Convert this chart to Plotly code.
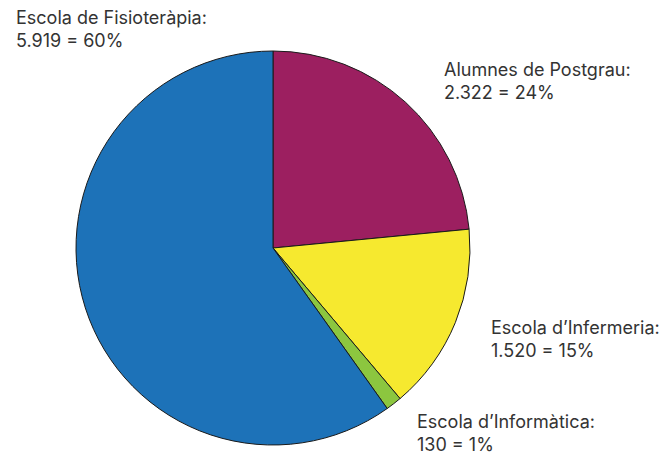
import plotly.graph_objects as go

# Student counts by school / group
labels = ["Alumnes de Postgrau", "Escola d\u2019Infermeria", "Escola d\u2019Inform\u00e0tica", "Escola de Fisioter\u00e0pia"]
values = [2322, 1520, 130, 5919]
value_text = ["2.322", "1.520", "130", "5.919"]
pct_text = ["24%", "15%", "1%", "60%"]
colors = ["#9c1f60", "#f6e92f", "#8cc63f", "#1d72b8"]

fig = go.Figure(go.Pie(
    labels=labels,
    values=values,
    sort=False,
    direction="clockwise",
    rotation=0,
    textinfo="none",
    hoverinfo="label+value",
    marker=dict(colors=colors, line=dict(color="#1a1a1a", width=1)),
    domain=dict(x=[76 / 666, 470 / 666], y=[1 - 445 / 457, 1 - 51 / 457]),
    showlegend=False,
))

# label placement (paper px -> fraction)
label_pos = [(442, 57), (489, 315), (415, 409), (14, 5)]
for i, (px_, py_) in enumerate(label_pos):
    fig.add_annotation(
        x=px_ / 666, y=1 - py_ / 457, xref="paper", yref="paper",
        xanchor="left", yanchor="top", align="left", showarrow=False,
        text=f"{labels[i]}:<br>{value_text[i]} = {pct_text[i]}",
        font=dict(family="Inter, Arial", size=18, color="#333333"),
    )

fig.update_layout(
    width=666, height=457,
    margin=dict(l=0, r=0, t=0, b=0),
    paper_bgcolor="white", plot_bgcolor="white",
)

fig.write_html("out.html", config={"displayModeBar": False},
               post_script="document.body.style.margin='0';")
